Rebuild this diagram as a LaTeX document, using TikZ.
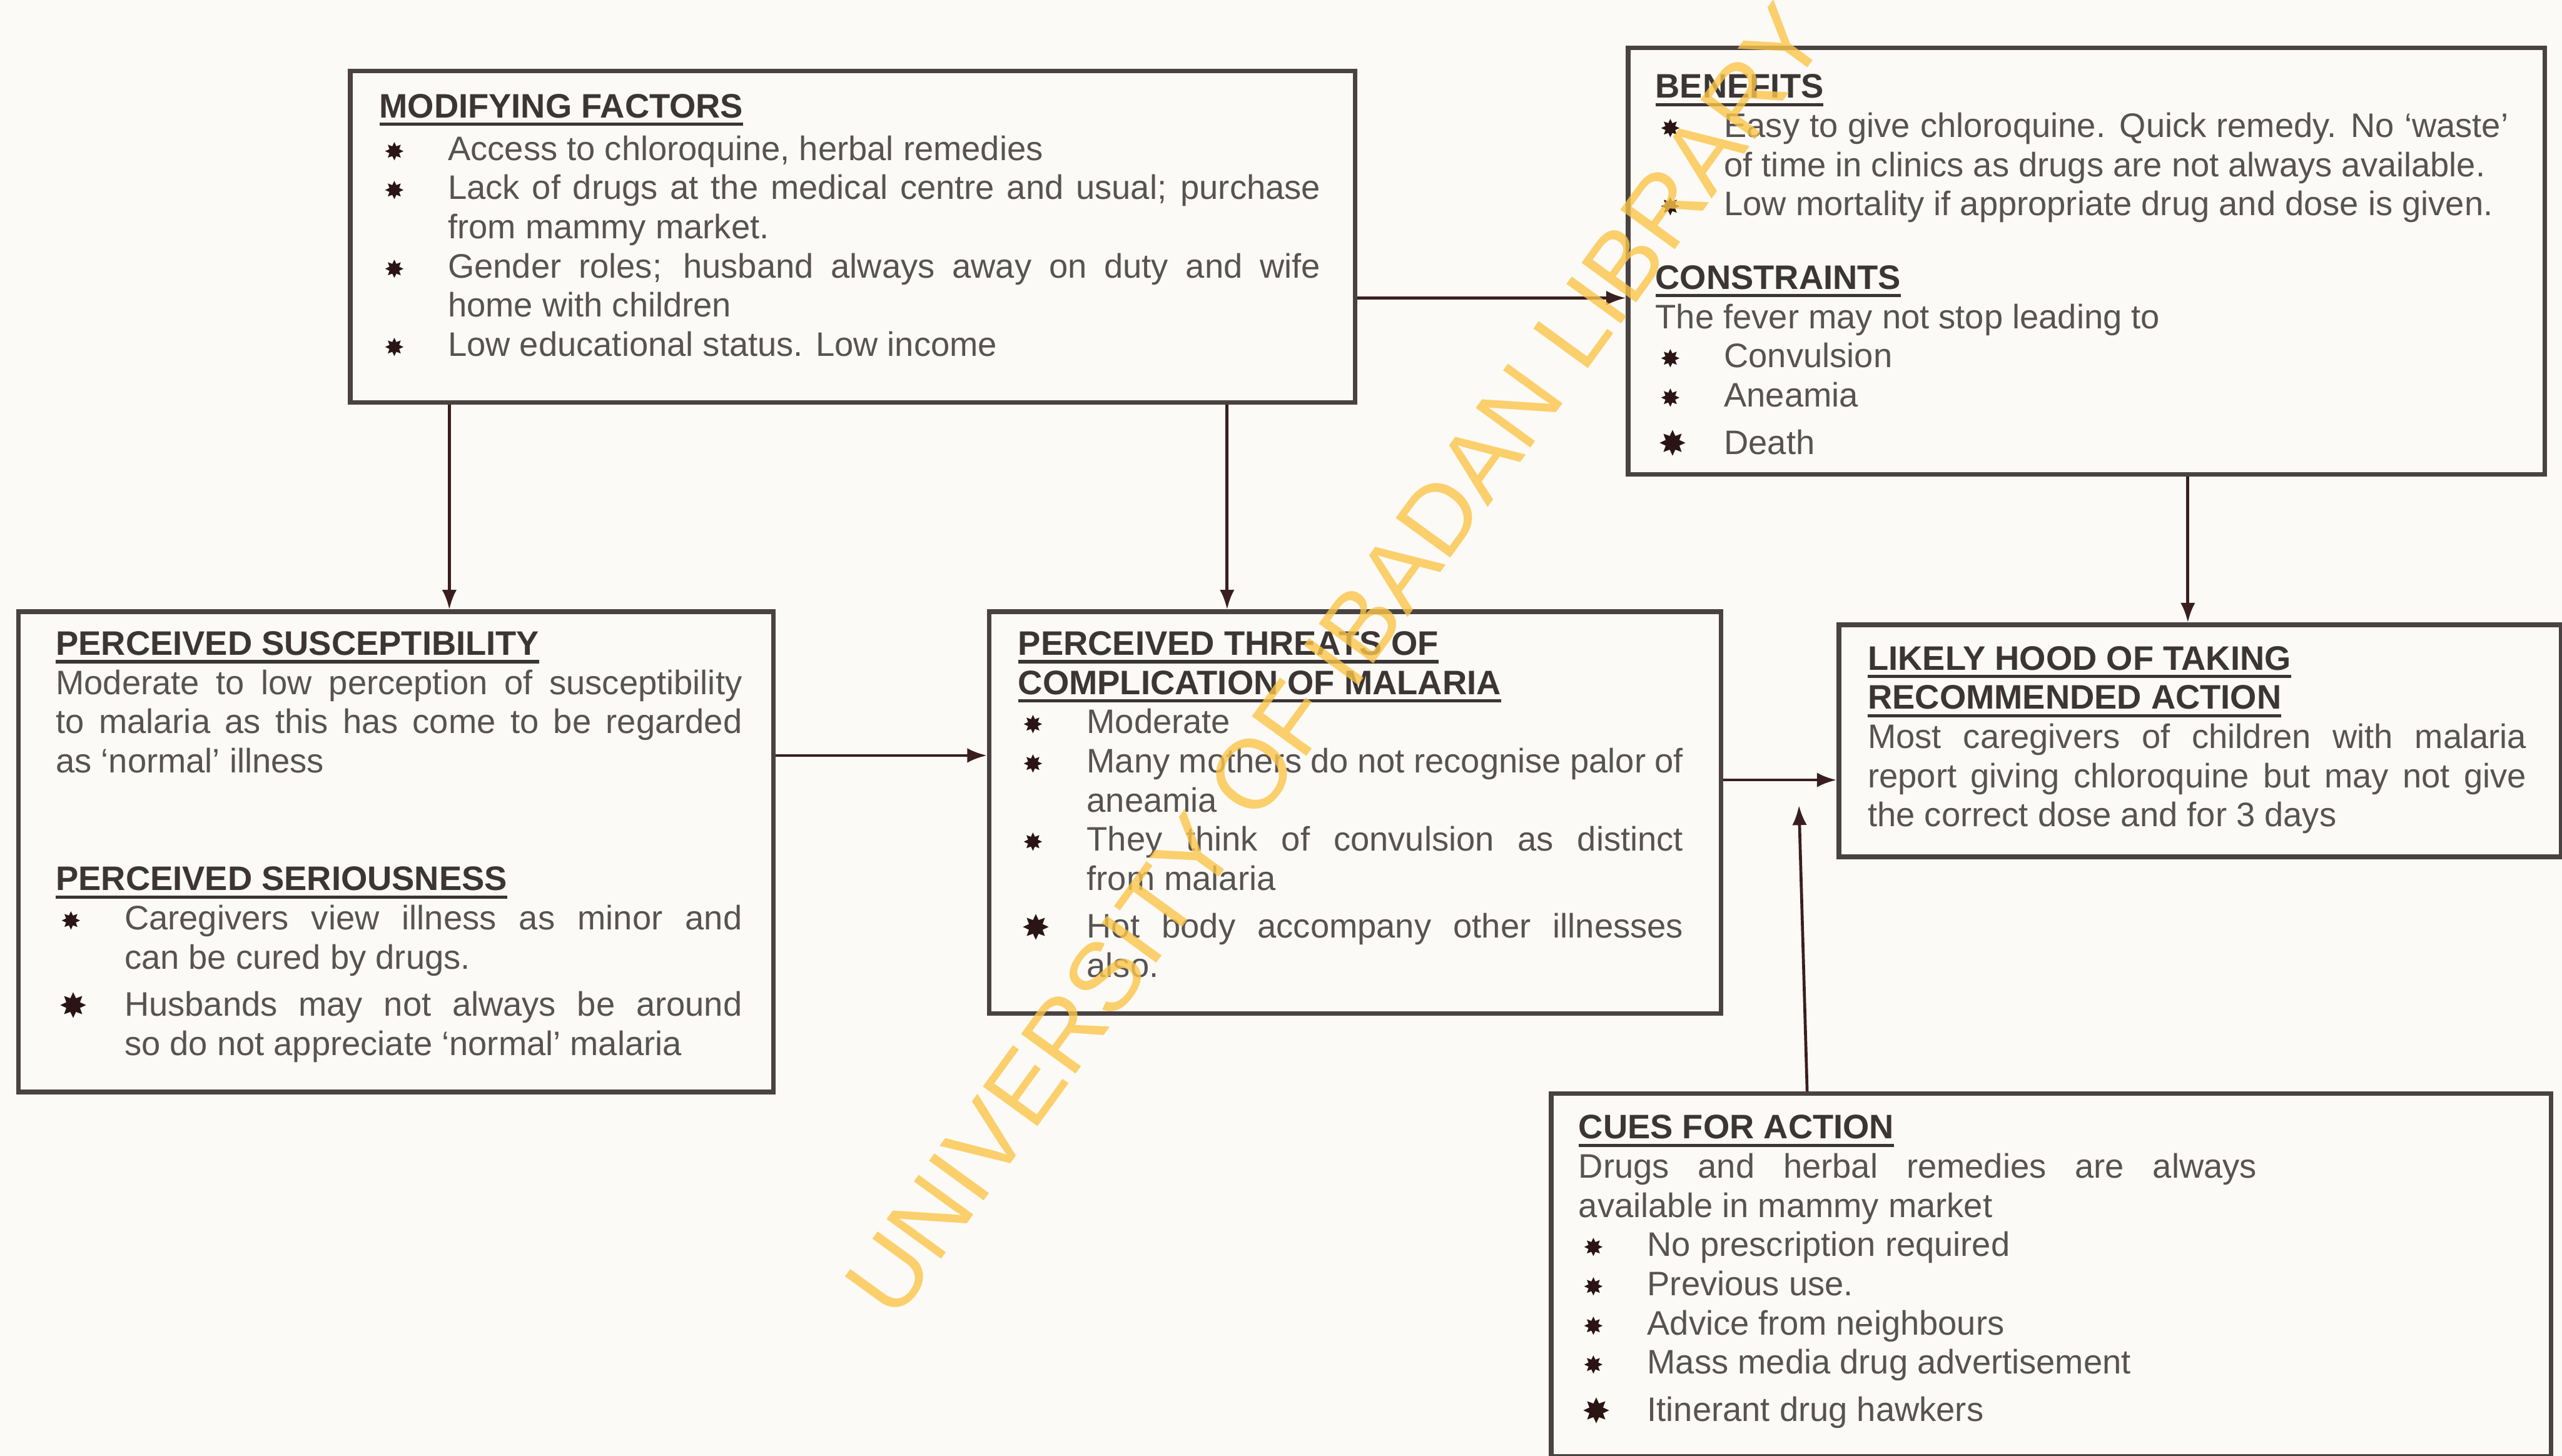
\documentclass[tikz,border=0pt]{standalone}
\usepackage{fontspec}
\setmainfont{Liberation Sans}
\newfontfamily\symf{DejaVu Sans}
\usetikzlibrary{arrows.meta}

\definecolor{bgcol}{HTML}{FBFAF6}
\definecolor{linecol}{HTML}{4A4242}
\definecolor{txtcol}{HTML}{585353}
\definecolor{headcol}{HTML}{3C3535}
\definecolor{bulcol}{HTML}{2A1414}
\definecolor{arrcol}{HTML}{3A1E1E}
\definecolor{wmcol}{HTML}{FBC54A}

\newlength{\bulind}\setlength{\bulind}{42pt}
\newsavebox{\hdbox}
\newcommand{\bul}{\raisebox{0pt}{\color{bulcol}\symf\fontsize{15}{15}\selectfont ✸}}
\newcommand{\bigbul}{\raisebox{-1pt}{\color{bulcol}\symf\fontsize{21}{21}\selectfont ✸}}
\newcommand{\hd}[1]{\leavevmode{\bfseries\color{headcol}\sbox{\hdbox}{#1}\rlap{\rule[-5pt]{\wd\hdbox}{2pt}}\usebox{\hdbox}}}
\newcommand{\itm}[1]{\par\noindent\hangindent=\bulind\hangafter=1\makebox[\bulind][l]{\hspace{3pt}\bul}#1\par}
\newcommand{\itmbig}[1]{\par\vspace{5pt}\noindent\hangindent=\bulind\hangafter=1\makebox[\bulind][l]{\hspace{2pt}\bigbul}#1\par}

\begin{document}
\begin{tikzpicture}[
  x=1pt, y=-1pt,
  >={Latex[length=12pt,width=9pt]},
  panel/.style={draw=linecol, line width=2.8pt, anchor=north west, inner sep=0pt},
  txt/.style={anchor=base west, inner sep=0pt, align=justify, text=txtcol,
              font=\fontsize{20.8}{24}\selectfont},
  arr/.style={->, line width=1.8pt, draw=arrcol},
  wmark/.style={text=wmcol, text opacity=0.8, inner sep=0pt, font=\fontsize{60}{60}\selectfont},
]
\fill[bgcol] (0,0) rectangle (1568,891);
\useasboundingbox (0,0) rectangle (1568,891);

% boxes
\node[panel, minimum width=615pt, minimum height=203pt] (modif)   at (213,42)  {};
\node[panel, minimum width=561pt, minimum height=261pt] (bencon)  at (995,28)  {};
\node[panel, minimum width=462pt, minimum height=294pt] (suscser) at (10,373)  {};
\node[panel, minimum width=448pt, minimum height=246pt] (threat)  at (604,373) {};
\node[panel, minimum width=442pt, minimum height=142pt] (likely)  at (1124,381){};
\node[panel, minimum width=612pt, minimum height=222pt] (cues)    at (948,668) {};

% texts
\node[txt, text width=576pt] (modiftxt) at (232,72) {\hd{MODIFYING FACTORS}\par\vspace{2pt}
  \itm{Access to chloroquine, herbal remedies}
  \itm{Lack of drugs at the medical centre and usual; purchase\linebreak from mammy market.}
  \itm{Gender roles; husband always away on duty and wife\linebreak home with children}
  \itm{Low educational status. Low income}};

\node[txt, text width=522pt] (bencontxt) at (1013,60) {\hd{BENEFITS}
  \itm{Easy to give chloroquine. Quick remedy. No `waste'\linebreak of time in clinics as drugs are not always available.}
  \itm{Low mortality if appropriate drug and dose is given.}
  \vspace{21pt}
  \noindent\hd{CONSTRAINTS}\par
  \noindent The fever may not stop leading to
  \itm{Convulsion}
  \itm{Aneamia}
  \itmbig{Death}};

\node[txt, text width=420pt] (susctxt) at (34,401) {\hd{PERCEIVED SUSCEPTIBILITY}\par
  Moderate to low perception of susceptibility\linebreak to malaria as this has come to be regarded\linebreak as `normal' illness\par
  \vspace{48pt}
  \hd{PERCEIVED SERIOUSNESS}
  \itm{Caregivers view illness as minor and\linebreak can be cured by drugs.}
  \itmbig{Husbands may not always be around\linebreak so do not appreciate `normal' malaria}};

\node[txt, text width=407pt] (threattxt) at (623,401) {\hd{PERCEIVED THREATS OF}\\\hd{COMPLICATION OF MALARIA}
  \itm{Moderate}
  \itm{Many mothers do not recognise palor of\linebreak aneamia}
  \itm{They think of convulsion as distinct\linebreak from malaria}
  \itmbig{Hot body accompany other illnesses\linebreak also.}};

\node[txt, text width=403pt] (likelytxt) at (1143,410) {\hd{LIKELY HOOD OF TAKING}\\\hd{RECOMMENDED ACTION}\par
  Most caregivers of children with malaria\linebreak report giving chloroquine but may not give\linebreak the correct dose and for 3 days};

\node[txt, text width=415pt] (cuestxt) at (966,697) {\hd{CUES FOR ACTION}\par
  Drugs and herbal remedies are always\linebreak available in mammy market
  \itm{No prescription required}
  \itm{Previous use.}
  \itm{Advice from neighbours}
  \itm{Mass media drug advertisement}
  \itmbig{Itinerant drug hawkers}};

% arrows
\draw[arr] ([xshift=62pt]modif.south west) -- ([xshift=265pt]suscser.north west);
\draw[arr] ([xshift=538pt]modif.south west) -- ([xshift=147pt]threat.north west);
\draw[arr] ([yshift=-37.5pt]modif.east) -- ([yshift=-22.5pt]bencon.west);
\draw[arr] ([yshift=59pt]suscser.east) -- ([yshift=35pt]threat.west);
\draw[arr] ([yshift=20pt]threat.east) -- ([yshift=-24pt]likely.west);
\draw[arr] ([xshift=344pt]bencon.south west) -- ([xshift=215pt]likely.north west);
\coordinate (cuetip) at (1101,493);
\draw[arr] ([xshift=158pt]cues.north west) -- (cuetip);

% watermark
\node[wmark, rotate=54] (wm) at (817,404) {UNIVERSITY OF IBADAN LIBRARY};
\end{tikzpicture}
\end{document}
